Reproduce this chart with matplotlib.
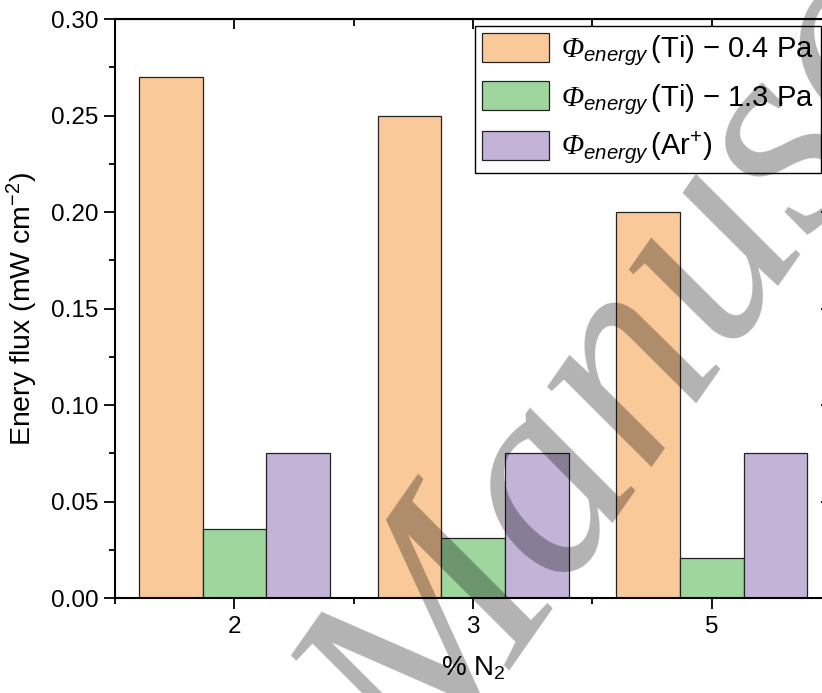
import numpy as np
import matplotlib
matplotlib.use('Agg')
import matplotlib.pyplot as plt
from matplotlib.ticker import FixedLocator, MultipleLocator

plt.rcParams['font.family'] = ['Liberation Sans', 'DejaVu Sans']
plt.rcParams['mathtext.fontset'] = 'custom'
plt.rcParams['mathtext.rm'] = 'Liberation Sans'
plt.rcParams['mathtext.it'] = 'Liberation Sans:italic'
plt.rcParams['mathtext.bf'] = 'Liberation Sans:bold'
plt.rcParams['mathtext.sf'] = 'Liberation Serif:italic'

# data
n2_labels = ['2', '3', '5']
flux_ti_04 = [0.27, 0.25, 0.20]
flux_ti_13 = [0.036, 0.031, 0.021]
flux_ar = [0.075, 0.075, 0.075]
series_names = [r'$\mathsf{\Phi}_{\mathit{energy}}\,$(Ti) $-$ 0.4 Pa',
                r'$\mathsf{\Phi}_{\mathit{energy}}\,$(Ti) $-$ 1.3 Pa',
                r'$\mathsf{\Phi}_{\mathit{energy}}\,$(Ar$^{+}$)']
colors = ['#FAC999', '#9ED69D', '#C3B3D7']

fig = plt.figure(figsize=(8.22, 6.93), dpi=100)
ax = fig.add_axes([0.140, 0.137, 0.871, 0.8355])

x = np.arange(len(n2_labels))
w = 0.8 / 3
for i, vals in enumerate([flux_ti_04, flux_ti_13, flux_ar]):
    ax.bar(x + (i - 1) * w, vals, width=w, color=colors[i], edgecolor='#222222',
           linewidth=0.9, label=series_names[i], zorder=2)

ax.set_xlim(-0.5, 2.5)
ax.set_ylim(0, 0.30)
ax.set_xticks(x)
ax.set_xticklabels(n2_labels)
ax.xaxis.set_minor_locator(FixedLocator([-0.5, 0.5, 1.5, 2.5]))
ax.yaxis.set_major_locator(MultipleLocator(0.05))
ax.yaxis.set_minor_locator(MultipleLocator(0.025))
ax.yaxis.set_major_formatter(matplotlib.ticker.FormatStrFormatter('%.2f'))

for s in ax.spines.values():
    s.set_linewidth(1.5)

ax.tick_params(axis='both', which='major', direction='out', length=8, width=1.3,
               labelsize=17.5, pad=5)
ax.tick_params(axis='both', which='minor', direction='out', length=4, width=1.3)
ax.tick_params(axis='y', pad=4)

# top and right ticks pointing inward
ax_top = ax.secondary_xaxis('top')
ax_top.set_xticks(x)
ax_top.set_xticklabels([])
ax_top.xaxis.set_minor_locator(FixedLocator([-0.5, 0.5, 1.5, 2.5]))
ax_top.tick_params(which='major', direction='in', length=7, width=1.3)
ax_top.tick_params(which='minor', direction='in', length=5, width=1.3)
ax_right = ax.secondary_yaxis('right')
ax_right.yaxis.set_major_locator(MultipleLocator(0.05))
ax_right.set_yticklabels([])
ax_right.tick_params(which='major', direction='in', length=7, width=1.3)
ax_right.tick_params(which='minor', length=0)

ax.set_xlabel(r'% N$_2$', fontsize=20, labelpad=12)
ax.set_ylabel(r'Enery flux (mW cm$^{-2}$)', fontsize=20.5, labelpad=8)

leg = ax.legend(loc='upper right', fontsize=21, frameon=True, fancybox=False,
                edgecolor='black', framealpha=1, handlelength=2.3, handleheight=1.14,
                borderpad=0.25, labelspacing=0.45, handletextpad=0.4,
                bbox_to_anchor=(0.986, 0.988), borderaxespad=0)
leg.get_frame().set_linewidth(1.0)

# watermark
fig.text(0.522, -0.14, 'Manuscript', rotation=55, rotation_mode='anchor',
         ha='left', va='baseline', family='Liberation Serif', style='italic',
         fontsize=206, color='black', alpha=0.3, zorder=10)

fig.savefig('out.png', dpi=100)
